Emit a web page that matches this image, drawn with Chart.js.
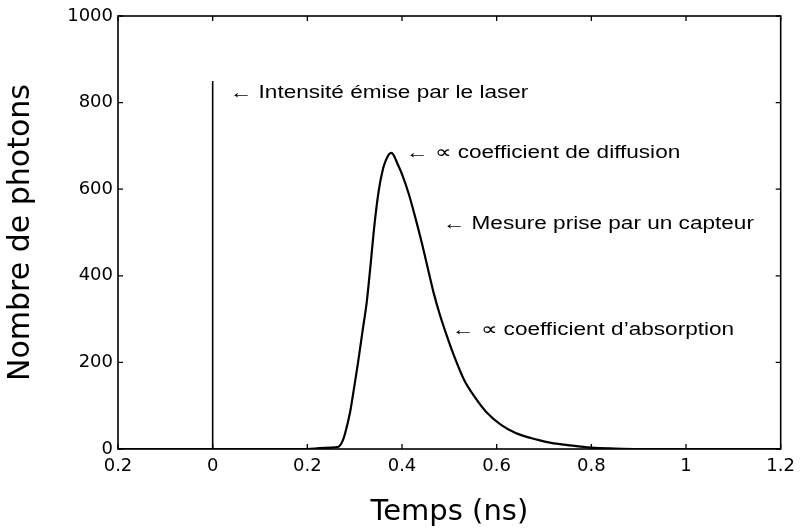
<!DOCTYPE html>
<html>
<head>
<meta charset="utf-8">
<script src="https://cdn.jsdelivr.net/npm/chart.js@4/dist/chart.umd.min.js"></script>
<style>
html,body{margin:0;padding:0;background:#fff;}
#wrap{width:802px;height:532px;}
</style>
</head>
<body>
<div id="wrap"><canvas id="c"></canvas></div>
<script>
// ---- data ----
const xTickLabels = ['0.2', '0', '0.2', '0.4', '0.6', '0.8', '1', '1.2'];
const yTickLabels = ['0', '200', '400', '600', '800', '1000'];

const laserTime = [0, 0];
const laserPhotons = [0, 850];

const measureTime = [-0.2, 0.0, 0.1, 0.2, 0.225, 0.26, 0.267, 0.275, 0.28, 0.29, 0.30, 0.307, 0.317, 0.326, 0.334, 0.342, 0.351, 0.36, 0.366, 0.372, 0.378, 0.384, 0.39, 0.40, 0.414, 0.428, 0.441, 0.454, 0.467, 0.48, 0.492, 0.51, 0.531, 0.555, 0.58, 0.61, 0.64, 0.687, 0.715, 0.75, 0.80, 0.85, 0.90, 1.0, 1.1, 1.2];
const measurePhotons = [0, 0, 0, 0, 2, 4, 6, 20, 37, 83, 150, 199, 275, 344, 430, 520, 598, 648, 667, 680, 684, 675, 660, 635, 590, 535, 480, 420, 360, 310, 270, 215, 160, 118, 83, 55, 37, 21, 14, 9, 3, 1, 0, 0, 0, 0];

const annotationTexts = ['\u2190 Intensit\u00e9 \u00e9mise par le laser', '\u2190 \u221d coefficient de diffusion', '\u2190 Mesure prise par un capteur', '\u2190 \u221d coefficient d\u2019absorption'];
const annotationX = [0.036, 0.408, 0.486, 0.505];
const annotationY = [822, 684, 520, 275];

const xTitle = 'Temps (ns)';
const yTitle = 'Nombre de photons';

// ---- build ----
const toPts = (xs, ys) => xs.map((x, i) => ({x: x, y: ys[i]}));

const FONT = "'DejaVu Sans', 'Liberation Sans', Arial, sans-serif";
const NOTE_FONT = "'Liberation Sans', Arial, Helvetica, sans-serif";

const boxPlugin = {
  id: 'matlabBox',
  afterDatasetsDraw(chart) {
    const {ctx, chartArea: a, scales} = chart;
    ctx.save();
    ctx.strokeStyle = '#000';
    ctx.lineWidth = 1.6;
    ctx.strokeRect(a.left, a.top, a.right - a.left, a.bottom - a.top);
    const L = 5;
    ctx.lineWidth = 1.3;
    ctx.beginPath();
    scales.x.ticks.forEach(t => {
      const px = scales.x.getPixelForValue(t.value);
      ctx.moveTo(px, a.bottom); ctx.lineTo(px, a.bottom - L);
      ctx.moveTo(px, a.top); ctx.lineTo(px, a.top + L);
    });
    scales.y.ticks.forEach(t => {
      const py = scales.y.getPixelForValue(t.value);
      ctx.moveTo(a.left, py); ctx.lineTo(a.left + L, py);
      ctx.moveTo(a.right, py); ctx.lineTo(a.right - L, py);
    });
    ctx.stroke();
    // annotations (text slightly widened like the original figure)
    ctx.fillStyle = '#000';
    ctx.font = '17.5px ' + NOTE_FONT;
    ctx.textAlign = 'left';
    ctx.textBaseline = 'middle';
    const sx = 1.29;
    annotationTexts.forEach((txt, i) => {
      const px = scales.x.getPixelForValue(annotationX[i]);
      const py = scales.y.getPixelForValue(annotationY[i]);
      ctx.save();
      ctx.translate(px, py);
      ctx.scale(sx, 1);
      ctx.fillText(txt, 0, 0);
      ctx.restore();
    });
    ctx.restore();
  }
};

new Chart(document.getElementById('c'), {
  type: 'line',
  data: {
    datasets: [
      {
        label: 'Laser',
        data: toPts(laserTime, laserPhotons),
        borderColor: '#000',
        borderWidth: 1.6,
        pointRadius: 0,
        tension: 0,
        fill: false
      },
      {
        label: 'Mesure',
        data: toPts(measureTime, measurePhotons),
        borderColor: '#000',
        borderWidth: 2.2,
        pointRadius: 0,
        cubicInterpolationMode: 'monotone',
        fill: false
      }
    ]
  },
  plugins: [boxPlugin],
  options: {
    responsive: true,
    maintainAspectRatio: false,
    animation: false,
    layout: {padding: {top: 16, right: 18, left: 0, bottom: 0}},
    plugins: {
      legend: {display: false},
      tooltip: {enabled: false}
    },
    scales: {
      x: {
        type: 'linear',
        min: -0.2,
        max: 1.2,
        border: {display: false},
        grid: {display: false, drawTicks: false},
        ticks: {
          stepSize: 0.2,
          padding: 7,
          color: '#000',
          font: {size: 18, family: FONT},
          maxRotation: 0,
          callback: (v, i) => xTickLabels[i]
        },
        title: {
          display: true,
          text: xTitle,
          color: '#000',
          font: {size: 29, family: FONT},
          padding: {top: 0, bottom: 2}
        },
        afterFit(s) { s.height = 83; }
      },
      y: {
        min: 0,
        max: 1000,
        border: {display: false},
        grid: {display: false, drawTicks: false},
        ticks: {
          stepSize: 200,
          padding: 5,
          color: '#000',
          font: {size: 18, family: FONT},
          callback: (v, i) => yTickLabels[i]
        },
        title: {
          display: true,
          text: yTitle,
          color: '#000',
          font: {size: 30, family: FONT},
          padding: {top: 3, bottom: 0}
        },
        afterFit(s) { s.width = 118; }
      }
    }
  }
});
</script>
</body>
</html>
